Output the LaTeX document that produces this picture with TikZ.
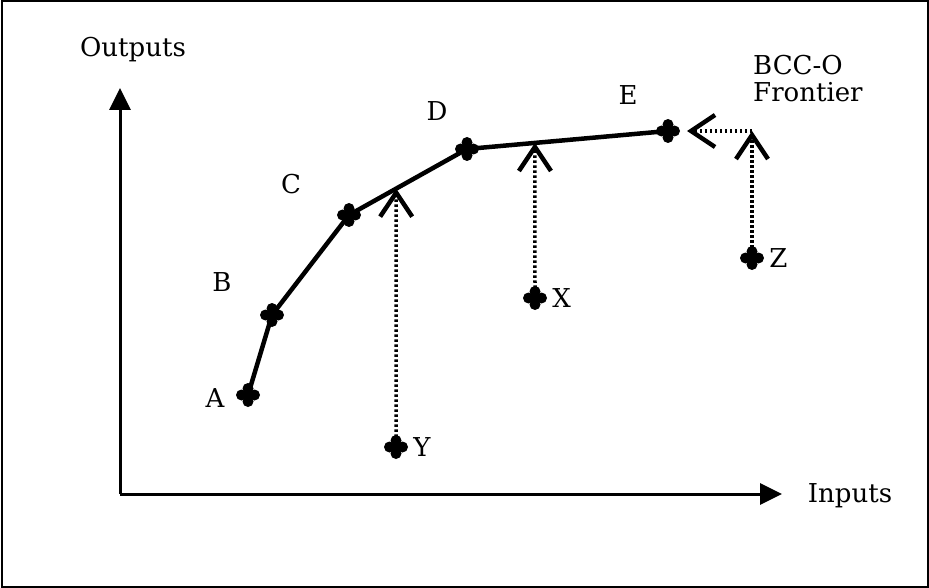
\documentclass[tikz,border=0pt]{standalone}
\usepackage{fontspec}
\setmainfont{DejaVu Serif}
\usetikzlibrary{arrows.meta,calc,positioning}

\tikzset{
    pt/.style={inner sep=0pt, minimum size=0pt},
    lbl/.style={inner sep=0pt, font=\fontsize{26}{30}\selectfont},
    axis/.style={draw, line width=3pt, -{Triangle[length=22pt,width=21pt]}},
    frontier/.style={draw, line width=4.5pt, line join=round},
    proj/.style={draw, line width=3.5pt, dash pattern=on 2.5pt off 2.5pt,
        -{Straight Barb[length=24pt,width=32pt,line width=4.5pt]}},
    blob/.pic={
        \fill (0pt,6.5pt) circle (5.5pt);
        \fill (0pt,-6.5pt) circle (5.5pt);
        \fill (6.5pt,0pt) circle (5.5pt);
        \fill (-6.5pt,0pt) circle (5.5pt);
        \fill (0pt,0pt) circle (6pt);
    }
}

\begin{document}
\begin{tikzpicture}[x=1pt, y=-1pt]
    \useasboundingbox (0,0) rectangle (929,588);
    \draw[line width=2pt] (1.5,1.5) rectangle (927.5,586.5);

    % axes
    \coordinate (orig) at (120,494);
    \coordinate (ytip) at (120,88);
    \coordinate (xtip) at (782,494);
    \path[axis] (orig) -- (ytip);
    \path[axis] (orig) -- (xtip);
    \node[lbl] (outputs) at (133,50) {Outputs};
    \node[lbl] (inputs) at (850,496) {Inputs};

    % units on the frontier
    \node[pt] (a) at (248,395) {};
    \node[pt] (b) at (272,315) {};
    \node[pt] (c) at (349,215) {};
    \node[pt] (d) at (467,149) {};
    \node[pt] (e) at (668,131) {};
    % inefficient units
    \node[pt] (x) at (535,298) {};
    \node[pt] (y) at (396,447) {};
    \node[pt] (z) at (752,258) {};

    \path[frontier] (a) -- (b) -- (c) -- (d) -- (e);

    % projections
    \coordinate (yproj) at ($(c)!0.4!(d)$);
    \coordinate (xproj) at ($(d)!0.338!(e)$);
    \coordinate (zproj) at (752,131);
    \coordinate (eproj) at ($(e)+(19,0)$);
    \path[proj] (y) -- (yproj);
    \path[proj] (x) -- (xproj);
    \path[proj] (z) -- (zproj);
    \path[proj] (zproj) -- (eproj);

    \foreach \n in {a,b,c,d,e,x,y,z}
        \pic at (\n) {blob};

    \node[lbl] (la) at (215,398) {A};
    \node[lbl] (lb) at (222,282) {B};
    \node[lbl] (lc) at (291,184) {C};
    \node[lbl] (ld) at (437,111) {D};
    \node[lbl] (le) at (628,95) {E};
    \node[lbl, right=17pt of x] (lx) {X};
    \node[lbl, right=17pt of y] (ly) {Y};
    \node[lbl, right=17pt of z] (lz) {Z};
    \node[lbl, anchor=west, align=left] (bcc) at (753,79) {BCC-O\\[-3pt]Frontier};
\end{tikzpicture}
\end{document}
